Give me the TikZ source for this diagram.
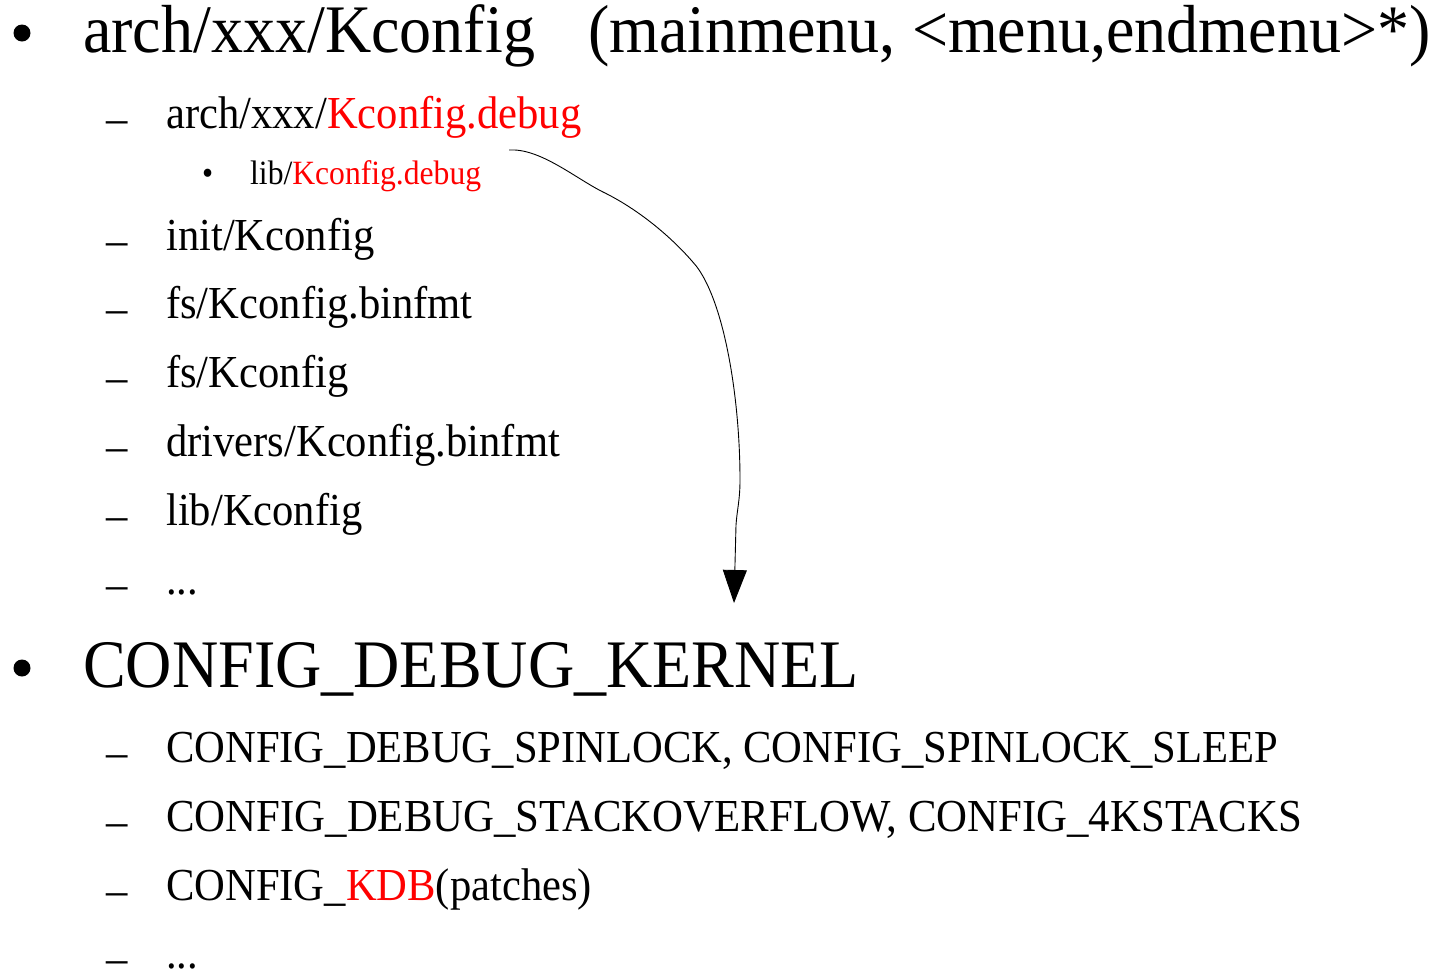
\documentclass[tikz,border=0pt]{standalone}
\usepackage{fontspec}
\usepackage{graphicx}
\setmainfont{Liberation Serif}
\usetikzlibrary{arrows.meta}
\definecolor{hl}{RGB}{255,0,0}
\newcommand\sqz[2][0.93]{\scalebox{#1}[1]{#2}}
\tikzset{
  big/.style={anchor=base west,inner sep=0pt,font=\fontsize{68}{72}\selectfont},
  med/.style={anchor=base west,inner sep=0pt,font=\fontsize{45.8}{50}\selectfont},
  dsh/.style={med,yshift=-5pt},
  sml/.style={anchor=base west,inner sep=0pt,font=\fontsize{34}{38}\selectfont},
  dot/.style={circle,fill=black,inner sep=0pt,minimum size=17pt},
  link/.style={draw=black,line width=0.9pt,-{Triangle[length=33pt,width=24pt]}}
}
\begin{document}
\begin{tikzpicture}[x=1pt,y=-1pt]
\useasboundingbox (0,0) rectangle (1431,970);
% section 1
\node[dot] (b1) at (22,33) {};
\node[big] (t1) at (83,52) {\sqz[0.942]{arch/xxx/Kconfig}};
\node[big] (t1b) at (588,52) {\sqz[0.942]{(mainmenu, <menu,endmenu>*)}};
\node[dsh] (d2) at (106,128) {\sqz{–}};
\node[med] (t2) at (166,128) {\sqz{arch/xxx/\textcolor{hl}{Kconfig.debug}}};
\node[sml] (d3) at (202,184) {\sqz{•}};
\node[sml] (t3) at (250,184) {\sqz{lib/\textcolor{hl}{Kconfig.debug}}};
\node[dsh] (d4) at (106,250) {\sqz{–}};
\node[med] (t4) at (166,250) {\sqz{init/Kconfig}};
\node[dsh] (d5) at (106,318) {\sqz{–}};
\node[med] (t5) at (166,318) {\sqz{fs/Kconfig.binfmt}};
\node[dsh] (d6) at (106,387) {\sqz{–}};
\node[med] (t6) at (166,387) {\sqz{fs/Kconfig}};
\node[dsh] (d7) at (106,456) {\sqz{–}};
\node[med] (t7) at (166,456) {\sqz{drivers/Kconfig.binfmt}};
\node[dsh] (d8) at (106,525) {\sqz{–}};
\node[med] (t8) at (166,525) {\sqz{lib/Kconfig}};
\node[dsh] (d9) at (106,594) {\sqz{–}};
\node[med] (t9) at (166,594) {\sqz{...}};
% section 2
\node[dot] (b2) at (22,668) {};
\node[big] (t10) at (83,687) {\sqz[0.942]{CONFIG\_DEBUG\_KERNEL}};
\node[dsh] (d11) at (106,762) {\sqz{–}};
\node[med] (t11) at (166,762) {\sqz{CONFIG\_DEBUG\_SPINLOCK, CONFIG\_SPINLOCK\_SLEEP}};
\node[dsh] (d12) at (106,831) {\sqz{–}};
\node[med] (t12) at (166,831) {\sqz[0.935]{CONFIG\_DEBUG\_STACKOVERFLOW, CONFIG\_4KSTACKS}};
\node[dsh] (d13) at (106,900) {\sqz{–}};
\node[med] (t13) at (166,900) {\sqz{CONFIG\_\textcolor{hl}{KDB}(patches)}};
\node[dsh] (d14) at (106,968) {\sqz{–}};
\node[med] (t14) at (166,968) {\sqz{...}};
% connector
\coordinate (src) at (509,150);
\coordinate (dst) at (734,603);
\draw[link] (src) .. controls (540,148) and (575,178) .. (603,192)
  .. controls (640,210) and (675,240) .. (697,267)
  .. controls (725,305) and (740,400) .. (740,480)
  .. controls (740,500) and (737,510) .. (736,525) -- (dst);
\end{tikzpicture}
\end{document}
